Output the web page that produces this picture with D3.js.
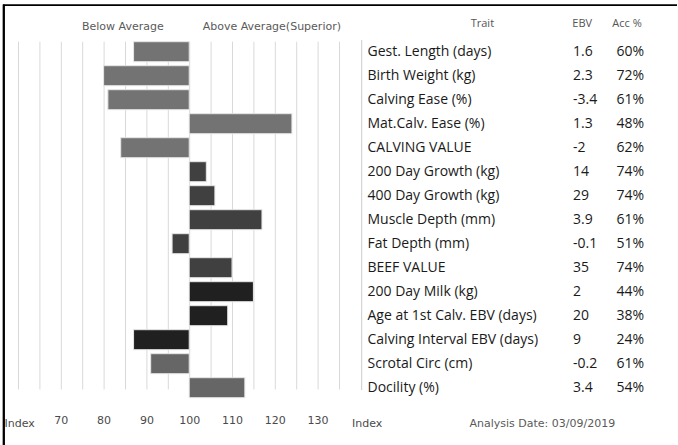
<!DOCTYPE html>
<html>
<head>
<meta charset="utf-8">
<script src="https://cdn.jsdelivr.net/npm/d3@7"></script>
<style>
  html, body { margin: 0; padding: 0; background: #fff; }
  svg { display: block; }
</style>
</head>
<body>
<svg id="chart" width="678" height="445"></svg>
<script>
// Trait list, index (100 = breed average), EBV and accuracy for each trait
const traits = [
  "Gest. Length (days)", "Birth Weight (kg)", "Calving Ease (%)", "Mat.Calv. Ease (%)",
  "CALVING VALUE", "200 Day Growth (kg)", "400 Day Growth (kg)", "Muscle Depth (mm)",
  "Fat Depth (mm)", "BEEF VALUE", "200 Day Milk (kg)", "Age at 1st Calv. EBV (days)",
  "Calving Interval EBV (days)", "Scrotal Circ (cm)", "Docility (%)"
];
const indexValues = [87, 80, 81, 124, 84, 104, 106, 117, 96, 110, 115, 109, 87, 91, 113];
const ebv = ["1.6", "2.3", "-3.4", "1.3", "-2", "14", "29", "3.9", "-0.1", "35", "2", "20", "9", "-0.2", "3.4"];
const accuracy = [60, 72, 61, 48, 62, 74, 74, 61, 51, 74, 44, 38, 24, 61, 54];
const groups = [
  "calving", "calving", "calving", "calving", "calving",
  "carcase", "carcase", "carcase", "carcase", "carcase",
  "maternal", "maternal", "maternal",
  "other", "other"
];
const tickLabels = [70, 80, 90, 100, 110, 120, 130];
const gridValues = d3.range(60, 136, 5);
const average = 100;

const rows = traits.map((t, i) => ({
  trait: t, index: indexValues[i], ebv: ebv[i], acc: accuracy[i], group: groups[i]
}));

const svg = d3.select("#chart");
const axisFont = "'DejaVu Sans', Verdana, sans-serif";
const tableFont = "'Open Sans', Lato, sans-serif";

const x = d3.scaleLinear().domain([60, 135]).range([18, 339]);
const y = d3.scaleBand().domain(traits).range([41.7, 397.7])
  .paddingInner(1 / 6).paddingOuter(0);
const color = d3.scaleOrdinal()
  .domain(["calving", "carcase", "maternal", "other"])
  .range(["#737373", "#404040", "#202020", "#666666"]);

// frame: top and left rules
svg.append("line").attr("x1", 3).attr("x2", 677).attr("y1", 5.2).attr("y2", 5.2)
  .attr("stroke", "#000").attr("stroke-width", 1.7);
svg.append("line").attr("x1", 3.8).attr("x2", 3.8).attr("y1", 4.4).attr("y2", 445)
  .attr("stroke", "#000").attr("stroke-width", 2.3);

// vertical gridlines every 5 index points
svg.append("g").selectAll("line").data(gridValues).join("line")
  .attr("x1", d => x(d) + 0.5).attr("x2", d => x(d) + 0.5)
  .attr("y1", 41.7).attr("y2", 389.5)
  .attr("stroke", "#d9d9d9").attr("stroke-width", 1);

// bars from the breed average
svg.append("g").selectAll("rect").data(rows).join("rect")
  .attr("x", d => x(Math.min(d.index, average)))
  .attr("width", d => Math.abs(x(d.index) - x(average)))
  .attr("y", d => y(d.trait))
  .attr("height", y.bandwidth())
  .attr("fill", d => color(d.group))
  .attr("stroke", "#e6e6e6").attr("stroke-width", 1);

// headings over the bars
svg.append("text").attr("x", 82).attr("y", 29.5).text("Below Average")
  .attr("font-family", axisFont).attr("font-size", 11).attr("fill", "#5a5a5a");
svg.append("text").attr("x", 202.7).attr("y", 29.5).text("Above Average(Superior)")
  .attr("font-family", axisFont).attr("font-size", 11).attr("fill", "#5a5a5a");

// bottom axis
const axis = svg.append("g").attr("transform", "translate(0,416)")
  .call(d3.axisBottom(x).tickValues(tickLabels).tickSize(0).tickPadding(0).tickFormat(d3.format("d")));
axis.select(".domain").remove();
axis.selectAll("text").attr("font-family", axisFont).attr("font-size", 11)
  .attr("fill", "#4a4a4a").attr("dy", "0.71em");
svg.append("text").attr("x", 4.5).attr("y", 426.5).text("Index")
  .attr("font-family", axisFont).attr("font-size", 11).attr("fill", "#4a4a4a");
svg.append("text").attr("x", 352).attr("y", 426.5).text("Index")
  .attr("font-family", axisFont).attr("font-size", 11).attr("fill", "#4a4a4a");
svg.append("text").attr("x", 469.5).attr("y", 426.5).text("Analysis Date: 03/09/2019")
  .attr("font-family", axisFont).attr("font-size", 11).attr("fill", "#5a5a5a");

// table separator
svg.append("line").attr("x1", 361.7).attr("x2", 361.7).attr("y1", 40).attr("y2", 390)
  .attr("stroke", "#cccccc").attr("stroke-width", 1);

// table headings
const col = { trait: 367.5, ebv: 573, acc: 616.5 };
svg.append("text").attr("x", 470.7).attr("y", 27).text("Trait")
  .attr("font-family", tableFont).attr("font-size", 11).attr("fill", "#555");
svg.append("text").attr("x", 572.3).attr("y", 27).text("EBV")
  .attr("font-family", tableFont).attr("font-size", 11).attr("fill", "#555");
svg.append("text").attr("x", 612.3).attr("y", 27).text("Acc %")
  .attr("font-family", tableFont).attr("font-size", 11).attr("fill", "#555");

// table rows
const rowG = svg.append("g").selectAll("g").data(rows).join("g")
  .attr("transform", d => `translate(0,${y(d.trait) + y.bandwidth() / 2 + 4.5})`)
  .attr("font-family", tableFont).attr("font-size", 14).attr("fill", "#1a1a1a");
rowG.append("text").attr("x", col.trait).text(d => d.trait);
rowG.append("text").attr("x", col.ebv).text(d => d.ebv);
rowG.append("text").attr("x", col.acc).text(d => d.acc + "%");
</script>
</body>
</html>
